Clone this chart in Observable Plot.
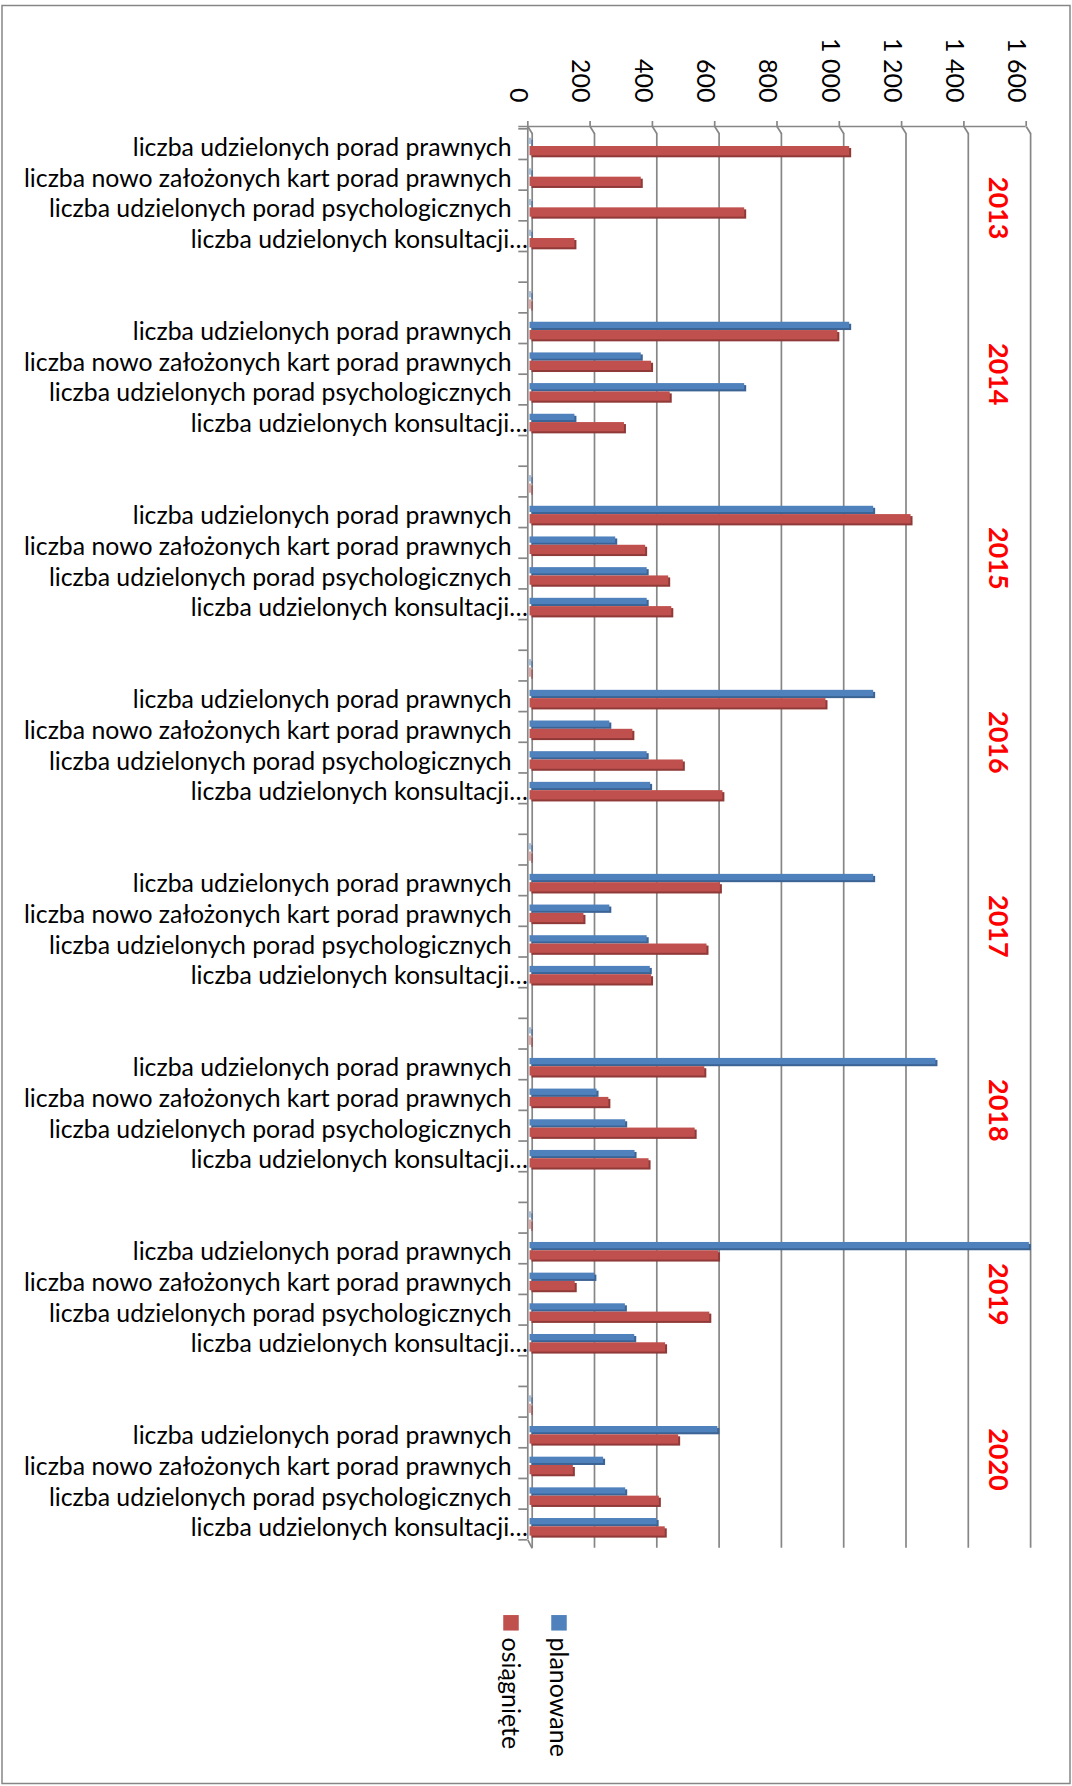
<!DOCTYPE html>
<html><head><meta charset="utf-8">
<script src="https://cdn.jsdelivr.net/npm/d3@7"></script>
<script src="https://cdn.jsdelivr.net/npm/@observablehq/plot@0.6"></script>
<style>html,body{margin:0;padding:0;background:#fff;} #chart svg{display:block;}</style>
</head><body><div id="chart"></div>
<script>
// ---------------- DATA ----------------
const years = ["2013", "2014", "2015", "2016", "2017", "2018", "2019", "2020"];
const categories = [
  "liczba udzielonych porad prawnych",
  "liczba nowo założonych kart porad prawnych",
  "liczba udzielonych porad psychologicznych",
  "liczba udzielonych konsultacji…"
];
const seriesNames = ["planowane", "osiągnięte"];
// values per year, in category order
const planowane = [
  [0, 0, 0, 0],
  [1023, 354, 686, 141],
  [1100, 272, 373, 373],
  [1100, 253, 373, 384],
  [1100, 253, 373, 383],
  [1300, 212, 304, 334],
  [1600, 205, 303, 333],
  [600, 233, 304, 405]
];
const osiagniete = [
  [1023, 354, 686, 141],
  [985, 387, 447, 300],
  [1220, 368, 442, 452],
  [947, 327, 489, 616],
  [608, 170, 565, 387],
  [558, 250, 527, 379],
  [602, 142, 574, 432],
  [474, 136, 412, 431]
];
// the unlabeled row with zero values that precedes each year block after the first
const separatorValues = [0, 0];
const valueTicks = [0, 200, 400, 600, 800, 1000, 1200, 1400, 1600];

// ---------------- LAYOUT / STYLE ----------------
const W = 1072, H = 1786;
const mL = 527.3, mR = W - 1025.7, mT = 128.3, mB = H - 1539.3;
const colors = ["#4F81BD", "#C0504D"];
const shades = ["#3B6394", "#8F3A38"];
const lineColor = "#868686";
const FONT = "Lato";
// the first and last year captions sit slightly off their block centre (px)
const yearNudge = {"2013": 18, "2020": -19};

// build category rows (blank row + zero row between year blocks)
const rows = [];
const yearCenters = [];
let idx = 0;
years.forEach((yr, g) => {
  if (g > 0) {
    idx += 1; // blank row
    rows.push({i: idx, label: "", values: separatorValues});
    idx += 1;
  }
  yearCenters.push({year: yr, c: idx + 2});
  categories.forEach((c, j) => {
    rows.push({i: idx, label: c, values: [planowane[g][j], osiagniete[g][j]]});
    idx += 1;
  });
});
const nRows = idx;
const pxPerUnit = (W - mL - mR) / 1600;
const rowPx = (H - mT - mB) / nRows;
const depthX = 4.4, depthY = 8.5;
// bar vertical placement inside a row (px from row top)
const barPos = [[9.4, 15.7], [17.7, 27.0]];
const shadowOff = 2;

const bars = [];
rows.forEach(r => r.values.forEach((v, s) => bars.push({i: r.i, s, value: v})));

const fmt = d3.formatLocale({decimal: ",", thousands: " ", grouping: [3], currency: ["", " zł"]}).format(",");

function barMarks(s, shadow) {
  const [a, b] = barPos[s];
  return Plot.rect(bars.filter(d => d.s === s), {
    x1: () => 0, x2: "value",
    y1: d => d.i + a / rowPx, y2: d => d.i + b / rowPx,
    fill: shadow ? shades[s] : colors[s],
    dx: 2.2 + (shadow ? shadowOff : 0), dy: shadow ? shadowOff : 0,
    insetRight: -1
  });
}

const legendDx = [29.7, -18.3];
const legendMarks = [];
seriesNames.forEach((name, k) => {
  legendMarks.push(Plot.dot([name], {x: () => 0, y: () => nRows, symbol: "square", r: 8.75,
    fill: colors[k], stroke: null, dx: legendDx[k] + 1.5, dy: 83}));
  legendMarks.push(Plot.text([name], {x: () => 0, y: () => nRows, text: d => d, rotate: 90,
    textAnchor: "start", dx: legendDx[k], dy: 97.7, fontSize: 25, fill: "#000"}));
});

const yearMarks = yearCenters.map(d => Plot.text([d], {y: "c", text: "year", frameAnchor: "right",
  textAnchor: "middle", rotate: 90, dx: -28.7, dy: yearNudge[d.year] || 0,
  fontSize: 27, fontWeight: "bold", fill: "#FF0000"}));

const isTruncated = r => r.label.endsWith("…");
const labelStyle = {y: d => d.i + 0.5, text: "label", frameAnchor: "left", textAnchor: "end", dy: 4, fontSize: 24.8, fill: "#000"};
const ln = {stroke: lineColor, strokeWidth: 1.7};

const chart = Plot.plot({
  width: W, height: H,
  marginLeft: mL, marginRight: mR, marginTop: mT, marginBottom: mB,
  style: {fontFamily: FONT, background: "#fff", color: "#000"},
  x: {domain: [0, 1600], range: [mL, W - mR], axis: null},
  y: {domain: [0, nRows], range: [mT, H - mB], axis: null},
  marks: [
    // outer border
    Plot.frame({stroke: lineColor, strokeWidth: 1.5, insetLeft: -(mL - 1.5), insetRight: -(mR - 2.5), insetTop: -(mT - 5), insetBottom: -(mB - 3)}),
    // back gridlines
    Plot.ruleX(valueTicks, {x: d => d, dx: depthX, dy: depthY, insetTop: -3.8, ...ln}),
    // 3D kinks at the top
    Plot.link(valueTicks, {x1: d => d, x2: d => d + depthX / pxPerUnit, y1: () => 0, y2: () => 7 / rowPx, dy: -2.3, ...ln}),
    // front top edge
    Plot.ruleY([0], {dy: -2.3, insetLeft: -9, ...ln}),
    // value ticks
    Plot.ruleX(valueTicks, {x: d => d, y1: () => 0, y2: () => 0, insetTop: -5, dy: -2.3, ...ln}),
    // front left wall edge
    Plot.ruleX([0], {insetTop: -2.3, ...ln}),
    Plot.link([0], {x1: () => 0, x2: () => depthX / pxPerUnit, y1: () => nRows, y2: () => nRows + depthY / rowPx, ...ln}),
    // category boundary ticks
    Plot.ruleY(d3.range(nRows + 1), {y: d => d, x1: () => 0, x2: () => 0, insetLeft: -9, ...ln}),
    // bars
    barMarks(0, true), barMarks(0, false),
    barMarks(1, true), barMarks(1, false),
    // category labels
    Plot.text(rows.filter(r => r.label && !isTruncated(r)), {...labelStyle, dx: -16.3}),
    Plot.text(rows.filter(r => r.label && isTruncated(r)), {...labelStyle, dx: 0}),
    // value tick labels
    Plot.text(valueTicks, {x: d => d, text: d => fmt(d), frameAnchor: "top", rotate: 90, textAnchor: "end", dy: -26.3, fontSize: 25, fill: "#000"}),
    // year labels
    ...yearMarks,
    ...legendMarks
  ]
});
document.getElementById("chart").appendChild(chart);
</script>
</body></html>
